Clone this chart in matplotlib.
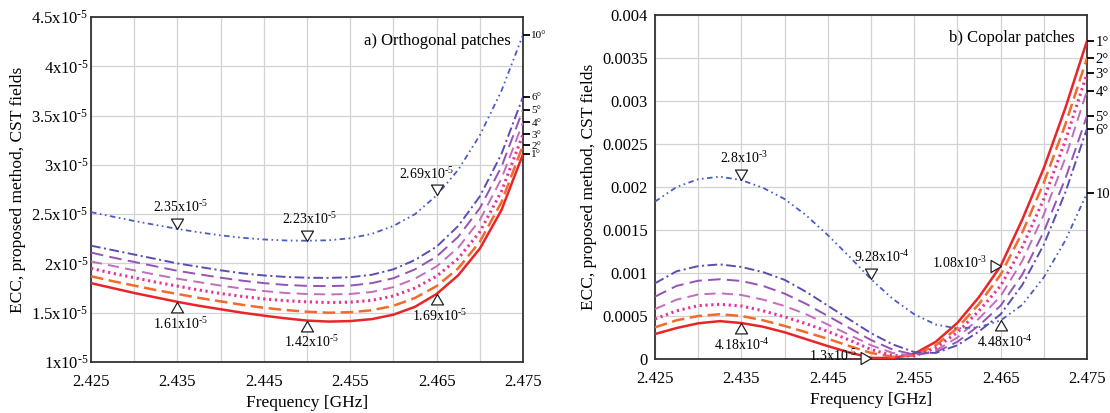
import numpy as np
import matplotlib
matplotlib.use('Agg')
import matplotlib.pyplot as plt
from matplotlib.ticker import MultipleLocator, FixedLocator

plt.rcParams['font.family'] = ['Liberation Serif', 'DejaVu Serif']
plt.rcParams['mathtext.fontset'] = 'custom'
plt.rcParams['mathtext.rm'] = 'Liberation Serif'
plt.rcParams['mathtext.it'] = 'Liberation Serif:italic'
plt.rcParams['lines.scale_dashes'] = False

# frequency samples, GHz
freq = np.round(np.arange(2.425, 2.4751, 0.0025), 4)
angles = ['1°', '2°', '3°', '4°', '5°', '6°', '10°']

# a) orthogonal patches, ECC x 1e-5
orth_1 = [1.80, 1.75, 1.70, 1.655, 1.61, 1.57, 1.535, 1.50, 1.47, 1.443, 1.42,
          1.41, 1.415, 1.435, 1.48, 1.56, 1.69, 1.88, 2.15, 2.54, 3.11]
orth_2 = [1.87, 1.82, 1.775, 1.73, 1.69, 1.65, 1.615, 1.58, 1.55, 1.527, 1.51,
          1.50, 1.505, 1.525, 1.57, 1.65, 1.77, 1.95, 2.22, 2.62, 3.20]
orth_3 = [1.95, 1.90, 1.855, 1.81, 1.77, 1.73, 1.695, 1.665, 1.64, 1.622, 1.61,
          1.603, 1.607, 1.625, 1.67, 1.75, 1.87, 2.05, 2.32, 2.73, 3.31]
orth_4 = [2.02, 1.975, 1.93, 1.885, 1.845, 1.81, 1.775, 1.745, 1.72, 1.70, 1.69,
          1.685, 1.69, 1.71, 1.76, 1.845, 1.97, 2.16, 2.44, 2.86, 3.43]
orth_5 = [2.11, 2.06, 2.015, 1.97, 1.925, 1.89, 1.855, 1.825, 1.80, 1.782, 1.772,
          1.77, 1.775, 1.80, 1.85, 1.94, 2.07, 2.27, 2.56, 2.98, 3.56]
orth_6 = [2.18, 2.135, 2.09, 2.045, 2.00, 1.965, 1.93, 1.90, 1.878, 1.863, 1.855,
          1.853, 1.86, 1.885, 1.94, 2.035, 2.17, 2.38, 2.68, 3.11, 3.69]
orth_10 = [2.52, 2.475, 2.43, 2.39, 2.35, 2.315, 2.285, 2.26, 2.243, 2.233, 2.23,
           2.235, 2.255, 2.30, 2.38, 2.50, 2.69, 2.95, 3.30, 3.75, 4.32]

# b) copolar patches, ECC x 1e-3
cop_1 = [0.29, 0.36, 0.415, 0.44, 0.418, 0.375, 0.31, 0.23, 0.15, 0.075, 0.013,
         0.01, 0.06, 0.20, 0.42, 0.72, 1.08, 1.62, 2.22, 2.92, 3.70]
cop_2 = [0.368, 0.45, 0.50, 0.52, 0.50, 0.45, 0.384, 0.31, 0.235, 0.15, 0.07,
         0.025, 0.04, 0.16, 0.36, 0.64, 0.98, 1.47, 2.05, 2.73, 3.50]
cop_3 = [0.465, 0.56, 0.62, 0.636, 0.616, 0.56, 0.49, 0.41, 0.32, 0.22, 0.11,
         0.04, 0.035, 0.13, 0.31, 0.56, 0.85, 1.30, 1.86, 2.54, 3.32]
cop_4 = [0.58, 0.69, 0.75, 0.764, 0.744, 0.69, 0.616, 0.52, 0.40, 0.28, 0.16,
         0.07, 0.035, 0.10, 0.25, 0.47, 0.73, 1.14, 1.68, 2.34, 3.12]
cop_5 = [0.725, 0.85, 0.91, 0.927, 0.907, 0.85, 0.76, 0.64, 0.50, 0.36, 0.22,
         0.11, 0.05, 0.08, 0.20, 0.39, 0.62, 0.98, 1.48, 2.10, 2.83]
cop_6 = [0.88, 1.02, 1.08, 1.10, 1.07, 1.01, 0.92, 0.78, 0.62, 0.46, 0.30,
         0.17, 0.08, 0.07, 0.16, 0.32, 0.52, 0.86, 1.33, 1.94, 2.68]
cop_10 = [1.83, 2.00, 2.09, 2.12, 2.08, 1.99, 1.86, 1.67, 1.44, 1.19, 0.928,
          0.70, 0.52, 0.40, 0.355, 0.37, 0.448, 0.63, 0.95, 1.38, 1.93]

# marked points: (freq, series, text, marker, text offset in points)
orth_marks = [
    (2.435, orth_10, '2.35x10$^{\\text{-5}}$', 'down', (2, 10)),
    (2.450, orth_10, '2.23x10$^{\\text{-5}}$', 'down', (2, 10)),
    (2.465, orth_10, '2.69x10$^{\\text{-5}}$', 'down', (-7, 10)),
    (2.435, orth_1, '1.61x10$^{\\text{-5}}$', 'up', (2, -10)),
    (2.450, orth_1, '1.42x10$^{\\text{-5}}$', 'up', (3, -10)),
    (2.465, orth_1, '1.69x10$^{\\text{-5}}$', 'up', (2, -10)),
]
cop_marks = [
    (2.435, cop_10, '2.8x10$^{\\text{-3}}$', 'down', (2, 10)),
    (2.450, cop_10, '9.28x10$^{\\text{-4}}$', 'down', (8, 10)),
    (2.465, cop_1, '1.08x10$^{\\text{-3}}$', 'right', (-10, 2)),
    (2.465, cop_10, '4.48x10$^{\\text{-4}}$', 'up', (3, -10)),
    (2.435, cop_1, '4.18x10$^{\\text{-4}}$', 'up', (0, -10)),
    (2.450, cop_1, '1.3x10$^{\\text{-5}}$', 'right', (-10, 1)),
]

styles = [
    dict(color='#e8262a', ls='-', lw=1.8),
    dict(color='#f26a2c', ls=(0, (9, 4)), lw=1.8),
    dict(color='#e5339b', ls=(0, (1.6, 2.6)), lw=2.2),
    dict(color='#c46cbc', ls=(0, (8, 4.5)), lw=1.4),
    dict(color='#9652b4', ls=(0, (9, 4.5)), lw=1.4),
    dict(color='#5a4eb2', ls=(0, (7, 2.5, 1.5, 2.5)), lw=1.4),
    dict(color='#4a5cc4', ls=(0, (4, 2.5, 1.2, 2.5, 1.2, 2.5)), lw=1.3),
]

# open triangles with their tip on the data point
tri = {
    'down': [(0, 0), (-0.58, 1), (0.58, 1), (0, 0)],
    'up': [(0, 0), (-0.58, -1), (0.58, -1), (0, 0)],
    'right': [(0, 0), (-1, 0.58), (-1, -0.58), (0, 0)],
}


def draw_panel(ax, curves, scale, ylim, ystep, yfmt, title, marks, deg_size):
    for vals, st in zip(curves, styles):
        ax.plot(freq, np.array(vals) * scale, solid_capstyle='butt',
                dash_capstyle='butt', zorder=3, **st)

    ax.set_xlim(2.425, 2.475)
    ax.set_ylim(*ylim)
    ax.xaxis.set_major_locator(FixedLocator([2.425, 2.435, 2.445, 2.455, 2.465, 2.475]))
    ax.xaxis.set_minor_locator(MultipleLocator(0.005))
    ax.set_xticklabels(['2.425', '2.435', '2.445', '2.455', '2.465', '2.475'])
    yt = np.arange(ylim[0], ylim[1] + ystep / 2, ystep)
    ax.set_yticks(yt)
    ax.set_yticklabels([yfmt(v) for v in yt])
    ax.grid(True, which='both', color='#d2d2d2', lw=0.9, zorder=0)
    ax.tick_params(axis='both', which='both', length=0, labelsize=12)
    ax.tick_params(axis='x', pad=9)
    for sp in ax.spines.values():
        sp.set_color('#333333')
        sp.set_linewidth(1.3)
    ax.set_xlabel('Frequency [GHz]', fontsize=12.5, labelpad=3)
    ax.set_ylabel('ECC, proposed method, CST fields', fontsize=12.5)
    ax.text(0.972, 0.955, title, transform=ax.transAxes, ha='right',
            va='top', fontsize=12)

    for f, vals, txt, kind, off in marks:
        i = int(np.argmin(np.abs(freq - f)))
        y = vals[i] * scale
        ax.plot([freq[i]], [y], marker=tri[kind], ms=15, mfc='white',
                mec='#222222', mew=0.9, ls='none', zorder=5, clip_on=False)
        if kind == 'down':
            ha, va = 'center', 'bottom'
        elif kind == 'up':
            ha, va = 'center', 'top'
        else:
            ha, va = 'right', 'center'
        ax.annotate(txt, (freq[i], y), xytext=off, textcoords='offset points',
                    ha=ha, va=va, fontsize=10, zorder=6)

    # angle labels at the curve ends
    ax2 = ax.twinx()
    ax2.set_ylim(ax.get_ylim())
    ends = [vals[-1] * scale for vals in curves]
    ax2.set_yticks(ends)
    ax2.set_yticklabels(angles)
    ax2.tick_params(axis='y', direction='out', length=5, width=1.3,
                    labelsize=deg_size, pad=1)
    for sp in ax2.spines.values():
        sp.set_visible(False)


def fmt_orth(v):
    s = ('%.1f' % (v * 1e5)).rstrip('0').rstrip('.')
    return s + 'x10$^{\\text{-5}}$'


def fmt_cop(v):
    if abs(v) < 1e-12:
        return '0'
    return ('%.4f' % v).rstrip('0')


fig = plt.figure(figsize=(11.1, 4.13), dpi=100)
ax_a = fig.add_axes([0.0820, 0.1235, 0.3892, 0.8354])
ax_b = fig.add_axes([0.5901, 0.1308, 0.3892, 0.8329])

draw_panel(ax_a, [orth_1, orth_2, orth_3, orth_4, orth_5, orth_6, orth_10],
           1e-5, (1e-5, 4.5e-5), 0.5e-5, fmt_orth, 'a) Orthogonal patches',
           orth_marks, 8)
draw_panel(ax_b, [cop_1, cop_2, cop_3, cop_4, cop_5, cop_6, cop_10],
           1e-3, (0, 0.004), 0.0005, fmt_cop, 'b) Copolar patches',
           cop_marks, 10.5)
ax_b.tick_params(axis='y', pad=5)
ax_a.tick_params(axis='y', pad=2)

fig.savefig('out.png', dpi=100)
